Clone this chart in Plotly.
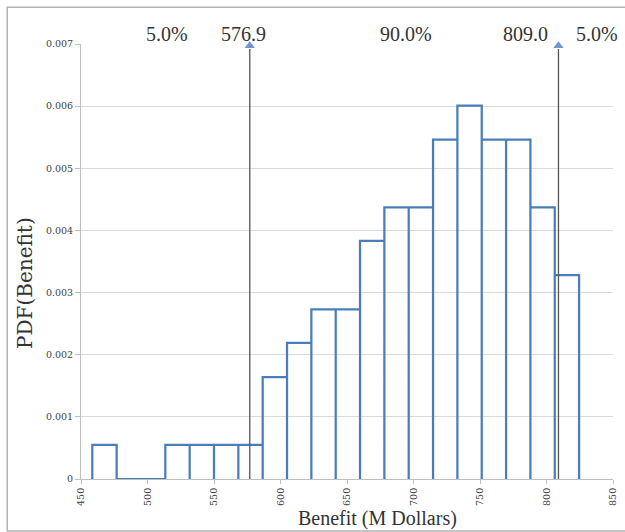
import plotly.graph_objects as go

# Histogram of simulated benefit (M Dollars): bin edges and density per bin
bin_edges = [458.5, 476.8, 495.1, 513.4, 531.7, 550.0, 568.3, 586.6, 604.9,
             623.2, 641.5, 659.8, 678.1, 696.4, 714.7, 733.0, 751.3, 769.6,
             787.9, 806.2, 824.5]
pdf_values = [0.00055, 0.0, 0.0, 0.00055, 0.00055, 0.00055, 0.00055,
              0.00164, 0.00219, 0.00273, 0.00273, 0.00383, 0.00437,
              0.00437, 0.00546, 0.00601, 0.00546, 0.00546, 0.00437, 0.00328]

# 5th / 95th percentile markers and probability labels
percentile_values = [576.9, 809.0]
percentile_labels = ["576.9", "809.0"]
region_labels = ["5.0%", "90.0%", "5.0%"]

x_tick_values = [450, 500, 550, 600, 650, 700, 750, 800, 850]
y_tick_values = [0, 0.001, 0.002, 0.003, 0.004, 0.005, 0.006, 0.007]
y_tick_labels = ["0", "0.001", "0.002", "0.003", "0.004", "0.005", "0.006", "0.007"]

BAR_BLUE = "#4a7ebb"
GRID = "#d9d9d9"
AXIS = "#bfbfbf"
SERIF = "Liberation Serif, Times New Roman, serif"
TICK_FONT = dict(family="DejaVu Serif, serif", size=9.5, color="#404040")

# Outline of every bin: up the left edge, across the top, down the right edge
path_x, path_y = [], []
for left, right, h in zip(bin_edges[:-1], bin_edges[1:], pdf_values):
    path_x += [left, left, right, right]
    path_y += [0, h, h, 0]

fig = go.Figure()
fig.add_trace(go.Scatter(
    x=path_x, y=path_y, mode="lines",
    line=dict(color=BAR_BLUE, width=2.25),
    hoverinfo="skip", showlegend=False,
))

# Percentile lines with arrow heads
for v in percentile_values:
    fig.add_trace(go.Scatter(
        x=[v, v], y=[0, 0.00692], mode="lines",
        line=dict(color="#555555", width=1.3),
        hoverinfo="skip", showlegend=False,
    ))
fig.add_trace(go.Scatter(
    x=percentile_values, y=[0.00697] * len(percentile_values), mode="markers",
    marker=dict(symbol="triangle-up", size=9, color="#7393d3"),
    cliponaxis=False, hoverinfo="skip", showlegend=False,
))

annotations = []
label_font = dict(family=SERIF, size=20, color="#333333")
# Value labels next to each percentile line
annotations.append(dict(x=percentile_values[0], y=1, xref="x", yref="paper",
                        text=percentile_labels[0], showarrow=False,
                        xanchor="center", yanchor="bottom", xshift=-6, yshift=-3,
                        font=label_font))
annotations.append(dict(x=percentile_values[1], y=1, xref="x", yref="paper",
                        text=percentile_labels[1], showarrow=False,
                        xanchor="right", yanchor="bottom", xshift=-8, yshift=-3,
                        font=label_font))
# Probability mass in each region
for xp, txt in zip([0.162, 0.611, 0.969], region_labels):
    annotations.append(dict(x=xp, y=1, xref="paper", yref="paper", text=txt,
                            showarrow=False, xanchor="center", yanchor="bottom",
                            yshift=-3, font=label_font))
# Axis titles
annotations.append(dict(x=0.557, y=-0.0897, xref="paper", yref="paper",
                        text="Benefit (M Dollars)", showarrow=False,
                        xanchor="center", yanchor="middle",
                        font=dict(family=SERIF, size=20, color="#333333")))
annotations.append(dict(x=-0.104, y=0.45, xref="paper", yref="paper",
                        text="PDF(Benefit)", showarrow=False, textangle=-90,
                        xanchor="center", yanchor="middle",
                        font=dict(family="DejaVu Serif, serif", size=20, color="#333333")))

fig.update_layout(
    width=625, height=532,
    margin=dict(l=81, r=12, t=44, b=53, autoexpand=False),
    paper_bgcolor="white", plot_bgcolor="white",
    showlegend=False, hovermode=False,
    annotations=annotations,
    shapes=[dict(type="rect", xref="paper", yref="paper",
                 x0=-0.1386, x1=1.1, y0=-0.1195, y1=1.0844,
                 line=dict(color="#b4b4b4", width=1.5), layer="below")],
)
fig.update_xaxes(
    range=[450, 850], tickvals=x_tick_values, tickangle=-90,
    ticks="outside", ticklen=4, tickcolor=AXIS,
    showline=True, linecolor=AXIS, linewidth=1, automargin=False,
    showgrid=False, zeroline=False, tickfont=TICK_FONT,
)
fig.update_yaxes(
    range=[0, 0.007], tickvals=y_tick_values, ticktext=y_tick_labels,
    ticks="outside", ticklen=5, tickcolor=AXIS,
    showline=True, linecolor=AXIS, linewidth=1, automargin=False,
    showgrid=True, gridcolor=GRID, gridwidth=1, zeroline=False,
    tickfont=TICK_FONT,
)

fig.write_html("out.html")
